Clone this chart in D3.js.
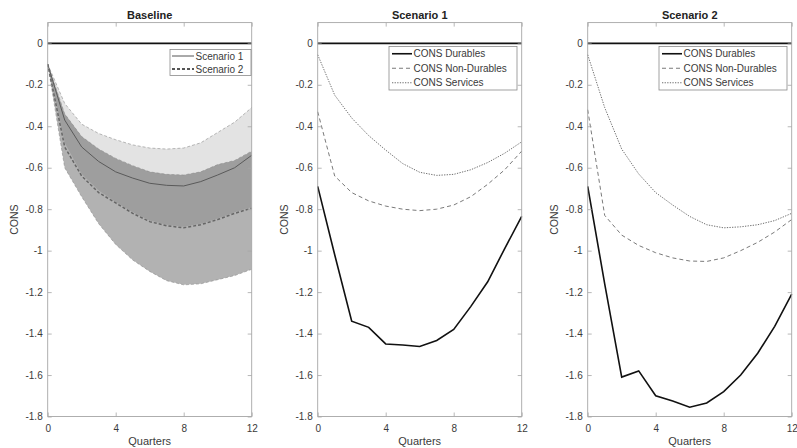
<!DOCTYPE html>
<html><head><meta charset="utf-8">
<script src="https://cdn.jsdelivr.net/npm/d3@7"></script>
<style>
body{margin:0;background:#fff}
text{font-family:Arial,"Liberation Sans",Helvetica,sans-serif}
</style>
</head><body><svg id="c" width="797" height="448"></svg>
<script>
// ---------- data ----------
const quarters = [0,1,2,3,4,5,6,7,8,9,10,11,12];
const xTicks = [0,4,8,12];
const yTicks = [0,-0.2,-0.4,-0.6,-0.8,-1,-1.2,-1.4,-1.6,-1.8];
const panelTitles = ["Baseline","Scenario 1","Scenario 2"];
const xLabel = "Quarters";
const yLabel = "CONS";

// Baseline panel: medians and bands
const baseS1Median = [-0.10,-0.37,-0.50,-0.57,-0.62,-0.65,-0.675,-0.685,-0.688,-0.667,-0.635,-0.60,-0.54];
const baseS1Upper  = [-0.10,-0.29,-0.39,-0.435,-0.465,-0.49,-0.505,-0.51,-0.505,-0.48,-0.43,-0.38,-0.31];
const baseS1Lower  = [-0.10,-0.48,-0.63,-0.71,-0.765,-0.815,-0.855,-0.875,-0.885,-0.87,-0.845,-0.815,-0.79];
const baseS2Median = [-0.10,-0.50,-0.64,-0.72,-0.77,-0.82,-0.86,-0.88,-0.89,-0.875,-0.85,-0.82,-0.795];
const baseS2Upper  = [-0.10,-0.34,-0.45,-0.51,-0.555,-0.59,-0.62,-0.632,-0.635,-0.62,-0.585,-0.565,-0.52];
const baseS2Lower  = [-0.10,-0.60,-0.74,-0.87,-0.97,-1.045,-1.10,-1.145,-1.165,-1.16,-1.14,-1.12,-1.09];
const baseLegend = ["Scenario 1","Scenario 2"];

// Scenario panels
const sc1Durables    = [-0.69,-1.02,-1.34,-1.37,-1.45,-1.455,-1.462,-1.433,-1.38,-1.27,-1.15,-0.99,-0.835];
const sc1NonDurables = [-0.33,-0.64,-0.72,-0.76,-0.785,-0.80,-0.807,-0.80,-0.78,-0.74,-0.68,-0.61,-0.52];
const sc1Services    = [-0.055,-0.25,-0.36,-0.445,-0.515,-0.58,-0.622,-0.637,-0.632,-0.61,-0.575,-0.53,-0.475];
const sc2Durables    = [-0.69,-1.16,-1.61,-1.58,-1.70,-1.725,-1.755,-1.735,-1.68,-1.60,-1.495,-1.365,-1.21];
const sc2NonDurables = [-0.32,-0.83,-0.925,-0.975,-1.01,-1.035,-1.05,-1.052,-1.035,-1.0,-0.96,-0.91,-0.85];
const sc2Services    = [-0.055,-0.31,-0.51,-0.63,-0.72,-0.78,-0.835,-0.875,-0.89,-0.885,-0.875,-0.855,-0.82];
const consLegend = ["CONS Durables","CONS Non-Durables","CONS Services"];

// ---------- drawing ----------
const svg = d3.select("#c");
svg.append("rect").attr("width",797).attr("height",448).attr("fill","#fff");

const panels = [
  {x0:47.7, x1:251.7},
  {x0:317.7, x1:521.7},
  {x0:587.7, x1:791.7}
];
const yTop = 22.6, yBot = 416.5;
const axisCol = "#a6a6a6", textCol = "#3a3a3a";
const fmt = d => String(+d.toFixed(1));

function setupPanel(i){
  const p = panels[i];
  const x = d3.scaleLinear().domain([0,12]).range([p.x0,p.x1]);
  const y = d3.scaleLinear().domain([-1.8,0.1]).range([yBot,yTop]);
  const g = svg.append("g");
  return {g,x,y,p};
}

function drawAxes(P, i){
  const {g,x,y,p} = P;
  g.append("line").attr("x1",x(0)).attr("x2",x(12)).attr("y1",y(0)).attr("y2",y(0))
    .attr("stroke","#111").attr("stroke-width",1.6);
  const styleAxis = sel => {
    sel.select(".domain").remove();
    sel.selectAll(".tick line").attr("stroke",axisCol).attr("stroke-width",0.8);
    sel.selectAll(".tick text").attr("fill",textCol).attr("font-size",10)
      .attr("font-family","Arial,'Liberation Sans',sans-serif");
  };
  g.append("g").attr("transform",`translate(${p.x0},0)`)
    .call(d3.axisLeft(y).tickValues(yTicks).tickFormat(fmt).tickSize(-4).tickPadding(5)).call(styleAxis);
  g.append("g").attr("transform",`translate(${p.x1},0)`)
    .call(d3.axisRight(y).tickValues(yTicks).tickFormat("").tickSize(-4)).call(styleAxis);
  g.append("g").attr("transform",`translate(0,${yBot})`)
    .call(d3.axisBottom(x).tickValues(xTicks).tickFormat(fmt).tickSize(-4).tickPadding(8)).call(styleAxis);
  g.append("g").attr("transform",`translate(0,${yTop})`)
    .call(d3.axisTop(x).tickValues(xTicks).tickFormat("").tickSize(-4)).call(styleAxis);
  g.append("rect").attr("x",p.x0).attr("y",yTop).attr("width",p.x1-p.x0).attr("height",yBot-yTop)
    .attr("fill","none").attr("stroke",axisCol).attr("stroke-width",0.9);
  g.append("text").attr("x",(p.x0+p.x1)/2).attr("y",19).attr("text-anchor","middle")
    .attr("font-size",11).attr("font-weight","bold").attr("fill","#222").text(panelTitles[i]);
  g.append("text").attr("x",(p.x0+p.x1)/2).attr("y",445).attr("text-anchor","middle")
    .attr("font-size",11).attr("fill",textCol).text(xLabel);
  g.append("text").attr("transform",`translate(${p.x0-32},${(yTop+yBot)/2}) rotate(-90)`)
    .attr("text-anchor","middle").attr("dominant-baseline","middle")
    .attr("font-size",10.5).attr("fill",textCol).text(yLabel);
}

function lineOf(P, vals){
  return d3.line().x((d,i)=>P.x(quarters[i])).y(d=>P.y(d))(vals);
}
function areaOf(P, lo, hi){
  return d3.area().x((d,i)=>P.x(quarters[i])).y0((d,i)=>P.y(lo[i])).y1((d,i)=>P.y(hi[i]))(lo);
}

function legend(P, bx, by, bw, bh, items){
  const g = P.g.append("g");
  g.append("rect").attr("x",bx).attr("y",by).attr("width",bw).attr("height",bh)
    .attr("fill","#fff").attr("stroke","#8a8a8a").attr("stroke-width",0.8);
  const step = bh/items.length;
  items.forEach((it,k)=>{
    const cy = by + step*(k+0.5);
    g.append("line").attr("x1",bx+it.lx0).attr("x2",bx+it.lx1).attr("y1",cy).attr("y2",cy)
      .attr("stroke",it.color).attr("stroke-width",it.w).attr("stroke-dasharray",it.dash||null);
    g.append("text").attr("x",bx+it.lx1+1.5).attr("y",cy).attr("dominant-baseline","central")
      .attr("font-size",10).attr("fill",textCol).text(it.label);
  });
}

// Panel 1: Baseline
{
  const P = setupPanel(0);
  P.g.append("path").attr("d",areaOf(P,baseS2Lower,baseS2Upper)).attr("fill","#000").attr("fill-opacity",0.3);
  P.g.append("path").attr("d",areaOf(P,baseS1Lower,baseS1Upper)).attr("fill","#000").attr("fill-opacity",0.11);
  [baseS1Upper,baseS2Upper,baseS2Lower].forEach(v=>{
    P.g.append("path").attr("d",lineOf(P,v)).attr("fill","none").attr("stroke","#8c8c8c")
      .attr("stroke-width",0.6).attr("stroke-dasharray","3,2");
  });
  P.g.append("path").attr("d",lineOf(P,baseS1Median)).attr("fill","none").attr("stroke","#5a5a5a").attr("stroke-width",1);
  P.g.append("path").attr("d",lineOf(P,baseS2Median)).attr("fill","none").attr("stroke","#666")
    .attr("stroke-width",1.5).attr("stroke-dasharray","3,2");
  drawAxes(P,0);
  legend(P, 170, 49.5, 81, 26, [
    {label:baseLegend[0], color:"#555", w:1, lx0:2, lx1:24},
    {label:baseLegend[1], color:"#555", w:2, dash:"3,2", lx0:2, lx1:24}
  ]);
}

function scenarioPanel(i, dur, nondur, serv){
  const P = setupPanel(i);
  P.g.append("path").attr("d",lineOf(P,serv)).attr("fill","none").attr("stroke","#6e6e6e")
    .attr("stroke-width",1).attr("stroke-dasharray","1.3,1.3");
  P.g.append("path").attr("d",lineOf(P,nondur)).attr("fill","none").attr("stroke","#7a7a7a")
    .attr("stroke-width",1).attr("stroke-dasharray","4,3");
  P.g.append("path").attr("d",lineOf(P,dur)).attr("fill","none").attr("stroke","#111")
    .attr("stroke-width",1.6);
  drawAxes(P,i);
  legend(P, P.p.x1-132.7, 46.5, 128, 43.5, [
    {label:consLegend[0], color:"#111", w:1.6, lx0:3, lx1:23},
    {label:consLegend[1], color:"#7a7a7a", w:1, dash:"4,3", lx0:3, lx1:23},
    {label:consLegend[2], color:"#6e6e6e", w:1, dash:"1.3,1.3", lx0:3, lx1:23}
  ]);
}
scenarioPanel(1, sc1Durables, sc1NonDurables, sc1Services);
scenarioPanel(2, sc2Durables, sc2NonDurables, sc2Services);
</script></body></html>
